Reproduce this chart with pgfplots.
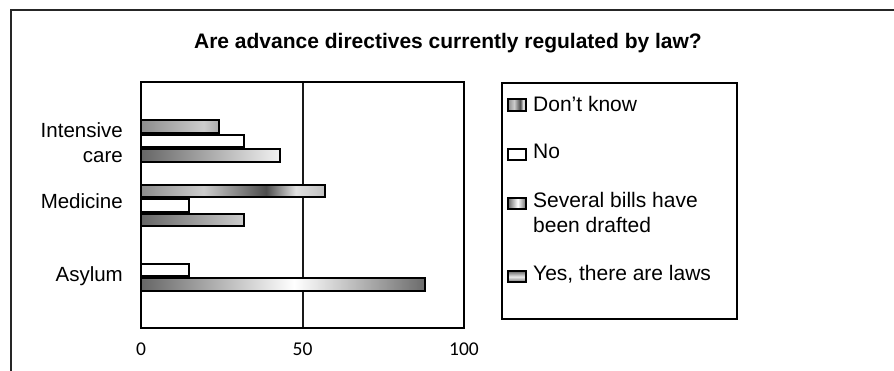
\documentclass[border=0pt]{standalone}
\usepackage{pgfplots}
\pgfplotsset{compat=1.18}
\usepackage{fontspec}
\setmainfont{Liberation Sans}
\newfontfamily\tickfont{Carlito}

% bar fills: the significant stops lie between 25bp and 75bp,
% which is the part that is stretched over each bar
\pgfdeclarehorizontalshading{dkshade}{100bp}{%
  color(0bp)=(black!45); color(25bp)=(black!45); color(42bp)=(black!20);
  color(59bp)=(black!70); color(67bp)=(black!12); color(75bp)=(black!25);
  color(100bp)=(black!25)}
\pgfdeclarehorizontalshading{sbshade}{100bp}{%
  color(0bp)=(black!60); color(25bp)=(black!60); color(52bp)=(white);
  color(75bp)=(black!58); color(100bp)=(black!58)}
\pgfdeclareverticalshading{yesshade}{100bp}{%
  color(0bp)=(black!55); color(25bp)=(black!55); color(50bp)=(black!8);
  color(75bp)=(black!55); color(100bp)=(black!55)}

\tikzset{
  dkbar/.style={draw=black, line width=2pt, shade, shading=dkshade},
  nobar/.style={draw=black, line width=2pt, fill=white},
  sbbar/.style={draw=black, line width=2pt, shade, shading=sbshade},
  yesbar/.style={draw=black, line width=2pt, shade, shading=yesshade},
  lab/.style={font=\fontsize{20.5}{25}\selectfont},
  leg/.style={font=\fontsize{21}{25}\selectfont, anchor=base west, inner sep=0pt, align=left},
}

\begin{document}
\begin{tikzpicture}
\useasboundingbox (0,0) rectangle (894pt,-371pt);
% outer frame
\draw[line width=2pt, black!85] (10.5pt,-371pt) -- (10.5pt,-10.5pt) -- (894pt,-10.5pt);
% title
\node[font=\bfseries\fontsize{21}{25}\selectfont, anchor=base] at (448pt,-48.3pt)
  {Are advance directives currently regulated by law?};

\begin{axis}[
  at={(141pt,-328pt)}, anchor=south west,
  scale only axis, width=323pt, height=246pt,
  xmin=0, xmax=100, ymin=-1.023, ymax=2.79, y dir=reverse,
  xbar, bar width=12.5pt,
  xtick={0,50,100},
  ytick={-0.09,0.83,1.98},
  yticklabels={{Intensive\\care},Medicine,Asylum},
  major tick length=0pt,
  xmajorgrids, major grid style={black!90, line width=2pt},
  axis line style={black, line width=2pt},
  /pgf/number format/assume math mode=true,
  xticklabel style={font=\tickfont\fontsize{19.5}{23}\selectfont, inner sep=0pt, yshift=-15pt},
  yticklabel style={lab, align=right, inner sep=0pt, xshift=-18pt},
  clip=false,
]
% positive shift moves a bar up here, since the y axis runs downwards
\addplot[dkbar, bar shift=21.75pt] coordinates {(24,0) (57,1) (0,2)};
\addplot[nobar, bar shift=7.25pt] coordinates {(32,0) (15,1) (15,2)};
\addplot[sbbar, bar shift=-7.25pt] coordinates {(43,0) (32,1) (88,2)};
\addplot[yesbar, bar shift=-21.75pt] coordinates {(0,0) (0,1) (0,2)};
\end{axis}

% legend
\draw[line width=2pt, black] (502pt,-83pt) rectangle (737pt,-319pt);
\path[dkbar]  (508pt,-99pt)  rectangle (526pt,-111pt);
\path[nobar]  (508pt,-149pt) rectangle (526pt,-160pt);
\path[sbbar]  (508pt,-198pt) rectangle (526pt,-209pt);
\path[yesbar] (508pt,-271.5pt) rectangle (526pt,-282pt);
\node[leg] at (533pt,-111.5pt) {Don't know};
\node[leg] at (533pt,-159pt) {No};
\node[leg] at (533pt,-232.5pt) {Several bills have\\been drafted};
\node[leg] at (533pt,-280pt) {Yes, there are laws};
\end{tikzpicture}
\end{document}
